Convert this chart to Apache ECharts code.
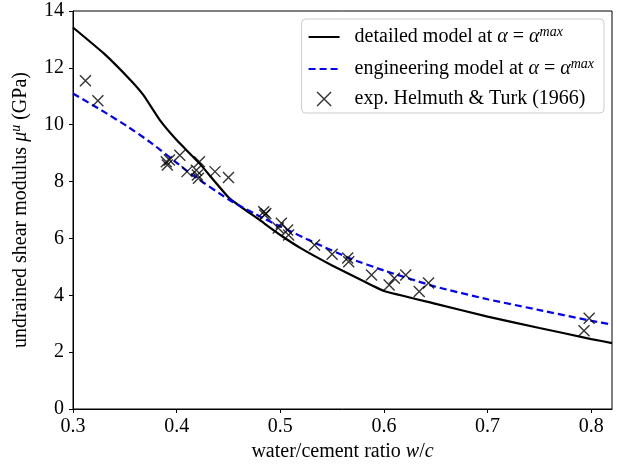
<!DOCTYPE html>
<html><head><meta charset="utf-8">
<script src="https://cdn.jsdelivr.net/npm/echarts@6/dist/echarts.min.js"></script>
<style>html,body{margin:0;padding:0;background:#fff}#c{width:617px;height:470px}</style>
</head><body><div id="c"></div>
<script>
// detailed model at alpha = alpha^max
const detailedX = [0.3, 0.33, 0.356, 0.368, 0.384, 0.4, 0.422, 0.451, 0.48, 0.5, 0.52, 0.55, 0.58, 0.6, 0.65, 0.7, 0.75, 0.8, 0.82];
const detailedY = [13.42, 12.5, 11.55, 11.04, 10.15, 9.46, 8.64, 7.41, 6.65, 6.12, 5.65, 5.05, 4.5, 4.15, 3.7, 3.25, 2.85, 2.46, 2.32];
// engineering model at alpha = alpha^max
const engX = [0.3, 0.33, 0.352, 0.374, 0.4, 0.413, 0.451, 0.483, 0.5, 0.533, 0.567, 0.6, 0.65, 0.7, 0.75, 0.8, 0.82];
const engY = [11.1, 10.45, 9.95, 9.4, 8.66, 8.29, 7.35, 6.72, 6.42, 5.85, 5.3, 4.87, 4.3, 3.86, 3.48, 3.1, 2.97];
// exp. Helmuth & Turk (1966)
const expX = [0.312, 0.324, 0.390, 0.391, 0.393, 0.403, 0.410, 0.419, 0.420, 0.421, 0.422, 0.437, 0.450, 0.484, 0.485, 0.486, 0.498, 0.501, 0.507, 0.508, 0.533, 0.550, 0.565, 0.566, 0.588, 0.605, 0.610, 0.621, 0.634, 0.643, 0.793, 0.798];
const expY = [11.55, 10.84, 8.70, 8.58, 8.76, 8.93, 8.35, 8.40, 8.23, 8.12, 8.70, 8.35, 8.14, 6.94, 6.82, 6.88, 6.37, 6.53, 6.30, 6.12, 5.77, 5.44, 5.31, 5.18, 4.71, 4.36, 4.60, 4.71, 4.13, 4.43, 2.75, 3.19];
const xTicks = [0.3, 0.4, 0.5, 0.6, 0.7, 0.8];
const yTicks = [0, 2, 4, 6, 8, 10, 12, 14];

const FONT = 'Liberation Serif';
const FS = 20;
const zip = (a, b) => a.map((v, i) => [v, b[i]]);
const X_PATH = 'path://M0,0L10,10M10,0L0,10';

const chart = echarts.init(document.getElementById('c'), null, {renderer: 'canvas'});
const rich = {
  i: {fontFamily: FONT, fontSize: FS, fontStyle: 'italic', color: '#000', lineHeight: 20},
  sup: {fontFamily: FONT, fontSize: 14, fontStyle: 'italic', color: '#000', padding: [0, 0, 10, 0], lineHeight: 14},
  n: {fontFamily: FONT, fontSize: FS, color: '#000', lineHeight: 20}
};
const legendNames = {
  detailed: '{n|detailed model at }{i|α}{n| = }{i|α}{sup|max}',
  engineering: '{n|engineering model at }{i|α}{n| = }{i|α}{sup|max}',
  exp: '{n|exp. Helmuth & Turk (1966)}'
};
chart.setOption({
  animation: false,
  backgroundColor: '#fff',
  grid: {left: 73, right: 5, top: 11, bottom: 61, show: true, borderColor: '#000', borderWidth: 1, backgroundColor: 'transparent'},
  legend: {
    orient: 'vertical', right: 13, top: 19,
    padding: [6, 10, 4, 6], itemGap: 8, itemWidth: 31, itemHeight: 14,
    borderColor: '#ccc', borderWidth: 1, borderRadius: 4, backgroundColor: 'rgba(255,255,255,0.8)',
    textStyle: {fontFamily: FONT, fontSize: FS, color: '#000', rich: rich, padding: [0, 0, 0, 10]},
    formatter: n => legendNames[n],
    data: [
      {name: 'detailed', itemStyle: {opacity: 0}},
      {name: 'engineering', itemStyle: {opacity: 0}},
      {name: 'exp', icon: X_PATH, itemStyle: {color: 'none', borderColor: '#000', borderWidth: 1.4}}
    ]
  },
  xAxis: {
    type: 'value', min: 0.3, max: 0.82, interval: 0.1,
    name: 'water/cement ratio {i|w}{n|/}{i|c}', nameLocation: 'middle', nameGap: 26,
    nameTextStyle: {fontFamily: FONT, fontSize: FS, color: '#000', rich: rich},
    axisLine: {show: true, lineStyle: {color: '#000', width: 1}},
    axisTick: {show: true, length: 4, lineStyle: {color: '#000'}},
    axisLabel: {fontFamily: FONT, fontSize: FS, color: '#000', margin: 8, showMaxLabel: false,
      formatter: v => { const t = xTicks.find(k => Math.abs(k - v) < 1e-6); return t === undefined ? '' : t.toFixed(1); }},
    splitLine: {show: false}
  },
  yAxis: {
    type: 'value', min: 0, max: 14, interval: 2,
    name: 'undrained shear modulus {i|μ}{sup|u}{n| (GPa)}', nameLocation: 'middle', nameGap: 38,
    nameTextStyle: {fontFamily: FONT, fontSize: FS, color: '#000', rich: rich},
    axisLine: {show: true, lineStyle: {color: '#000', width: 1}},
    axisTick: {show: true, length: 4, lineStyle: {color: '#000'}},
    axisLabel: {fontFamily: FONT, fontSize: FS, color: '#000', margin: 9,
      formatter: v => { const t = yTicks.find(k => Math.abs(k - v) < 1e-6); return t === undefined ? '' : String(t); }},
    splitLine: {show: false}
  },
  series: [
    {name: 'detailed', type: 'line', data: zip(detailedX, detailedY), showSymbol: false, symbol: 'none',
      smooth: 0.12,
      lineStyle: {color: '#000', width: 2.2}, itemStyle: {color: '#000'}, z: 3},
    {name: 'engineering', type: 'line', data: zip(engX, engY), showSymbol: false, symbol: 'none',
      smooth: 0.15,
      lineStyle: {color: '#0000ff', width: 2.2, type: [7, 4]}, itemStyle: {color: '#0000ff'}, z: 3},
    {name: 'exp', type: 'scatter', data: zip(expX, expY), symbol: X_PATH, symbolSize: 11,
      itemStyle: {color: 'none', borderColor: '#000', borderWidth: 1.4}, z: 4}
  ]
});
</script></body></html>
